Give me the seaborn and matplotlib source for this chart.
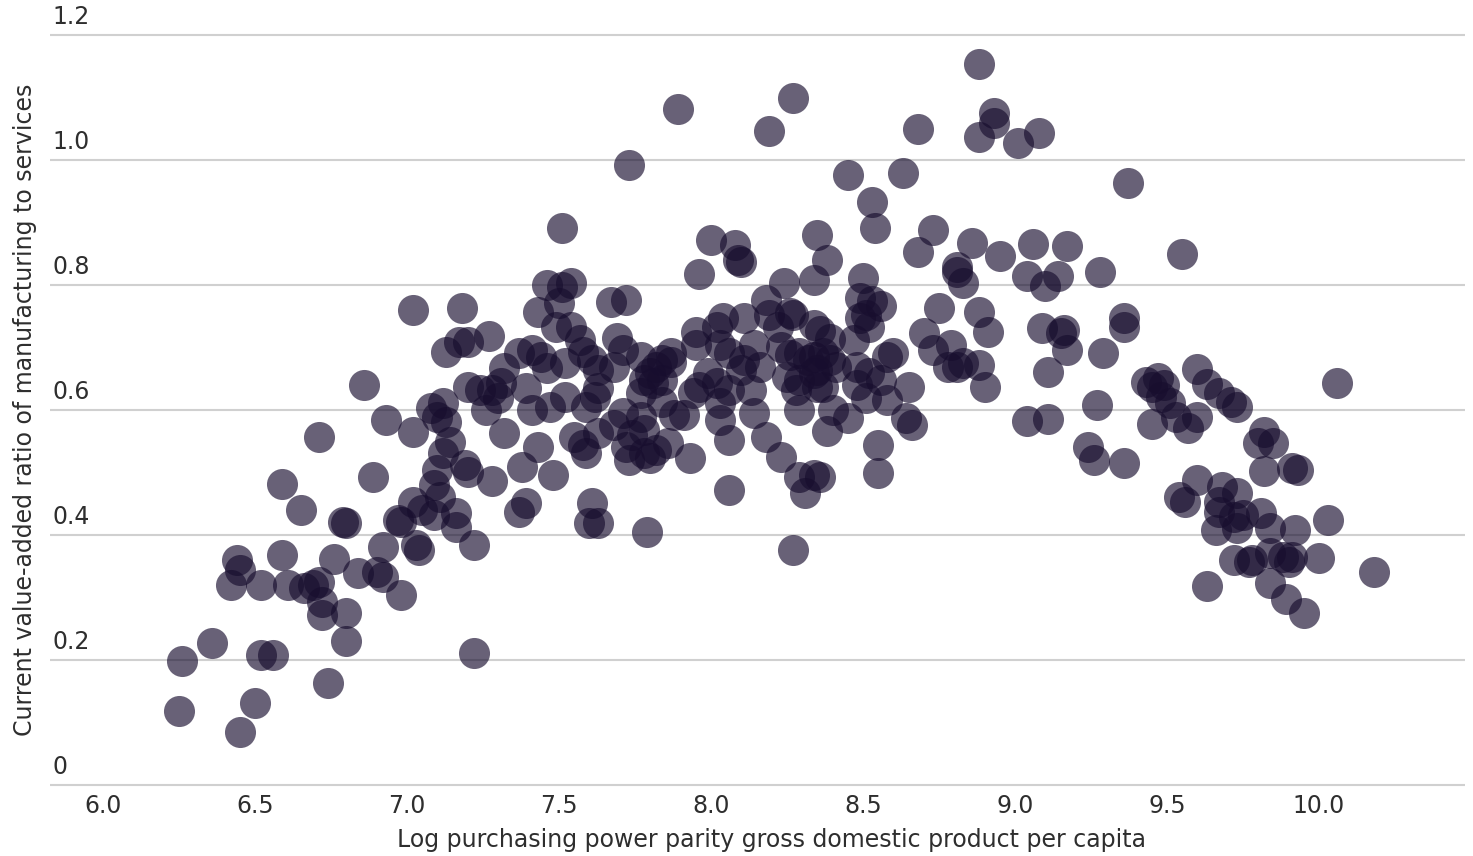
import matplotlib
matplotlib.use('Agg')
import matplotlib.pyplot as plt
import matplotlib.transforms as mtransforms
import seaborn as sns
import pandas as pd

# Log PPP GDP per capita (x) and manufacturing/services value-added ratio (y)
gdp_log = [
    6.25, 6.26, 6.36, 6.44, 6.45, 6.42, 6.45, 6.50, 6.52, 6.56, 6.52, 6.59, 6.59, 6.61, 6.65, 6.66,
    6.69, 6.71, 6.72, 6.72, 6.71, 6.74, 6.76, 6.79, 6.80, 6.80, 6.80, 6.84, 6.86, 6.89, 6.90, 6.92,
    6.92, 6.93, 6.97, 6.98, 6.98,
    7.02, 7.02, 7.03, 7.04, 7.02, 7.05, 7.09, 7.08, 7.12, 7.10, 7.13, 7.14, 7.12, 7.10, 7.09, 7.11,
    7.19, 7.20, 7.13, 7.17, 7.20, 7.18, 7.27, 7.16, 7.16, 7.22, 7.22, 7.20, 7.24, 7.28, 7.31, 7.30,
    7.26, 7.28, 7.32,
    7.32, 7.37, 7.39, 7.37, 7.41, 7.44, 7.46, 7.39, 7.38, 7.41, 7.43, 7.43, 7.46, 7.51, 7.54, 7.50,
    7.49, 7.54, 7.51, 7.47, 7.48, 7.52, 7.52, 7.55, 7.58, 7.59, 7.57, 7.58, 7.61, 7.59, 7.62, 7.63,
    7.63, 7.61, 7.60, 7.63, 7.63, 7.68,
    7.67, 7.72, 7.69, 7.71, 7.68, 7.71, 7.77, 7.78, 7.74, 7.72, 7.73, 7.78, 7.80, 7.82, 7.86, 7.77,
    7.84, 7.88, 7.91, 7.77, 7.80, 7.78, 7.81, 7.82, 7.84, 7.84, 7.87, 7.87, 7.73, 7.79, 7.89, 7.93,
    7.95, 7.95, 7.96, 7.94, 7.96, 7.99,
    8.00, 8.08, 8.09, 8.10, 8.02, 8.04, 8.11, 8.03, 8.06, 8.14, 8.11, 8.10, 8.16, 8.02, 8.06, 8.03,
    8.03, 8.06, 8.06, 8.13, 8.14, 8.18, 8.19, 8.19, 8.27, 8.22, 8.24, 8.18, 8.23, 8.23, 8.26, 8.29,
    8.32, 8.34, 8.37, 8.39, 8.41, 8.35, 8.34, 8.29, 8.35, 8.25, 8.28, 8.37, 8.27, 8.27, 8.29, 8.38,
    8.40, 8.45, 8.29, 8.34, 8.36, 8.31,
    8.34, 8.35, 8.38, 8.26, 8.34, 8.36, 8.39, 8.45, 8.50, 8.49, 8.53, 8.56, 8.49, 8.51, 8.52, 8.47,
    8.53, 8.54, 8.48, 8.52, 8.58, 8.60, 8.56, 8.48, 8.51, 8.58, 8.65, 8.64, 8.66, 8.55, 8.55, 8.63,
    8.68, 8.73, 8.68, 8.70, 8.73, 8.75, 8.79, 8.78, 8.81, 8.83, 8.88, 8.90, 8.81, 8.81, 8.83, 8.86,
    8.88, 8.93, 8.93, 8.88, 8.88, 8.91, 8.95, 9.01, 9.04, 9.10, 9.14, 9.06, 9.08, 9.09, 9.15, 9.16,
    9.17, 9.11, 9.04, 9.11, 9.17, 9.24, 9.26, 9.27, 9.28, 9.29, 9.36, 9.36, 9.36, 9.37,
    9.43, 9.45, 9.47, 9.49, 9.48, 9.51, 9.45, 9.53, 9.57, 9.60, 9.55, 9.60, 9.63, 9.67, 9.71, 9.73,
    9.54, 9.56, 9.60, 9.68, 9.67, 9.73, 9.67, 9.72, 9.75, 9.81, 9.73, 9.66, 9.82, 9.80, 9.85, 9.82,
    9.91, 9.93, 9.84, 9.92, 10.03, 9.63, 9.72, 9.77, 9.78, 9.84, 9.88, 9.90, 9.91, 10.00, 9.84, 9.89,
    9.95, 10.06, 10.18,
]
mfg_ratio = [
    0.118, 0.198, 0.227, 0.360, 0.344, 0.320, 0.085, 0.131, 0.208, 0.208, 0.320, 0.482, 0.368, 0.320, 0.440, 0.315,
    0.320, 0.325, 0.293, 0.272, 0.557, 0.163, 0.362, 0.421, 0.419, 0.275, 0.230, 0.339, 0.640, 0.493, 0.341, 0.333,
    0.381, 0.584, 0.424, 0.421, 0.304,
    0.760, 0.565, 0.384, 0.376, 0.453, 0.440, 0.432, 0.603, 0.611, 0.589, 0.581, 0.549, 0.531, 0.504, 0.480, 0.461,
    0.512, 0.501, 0.693, 0.709, 0.709, 0.763, 0.718, 0.435, 0.413, 0.384, 0.211, 0.637, 0.632, 0.632, 0.643, 0.619,
    0.600, 0.486, 0.667,
    0.563, 0.437, 0.451, 0.691, 0.696, 0.685, 0.667, 0.635, 0.509, 0.600, 0.757, 0.541, 0.800, 0.797, 0.803, 0.771,
    0.733, 0.733, 0.891, 0.605, 0.496, 0.675, 0.621, 0.557, 0.544, 0.531, 0.712, 0.693, 0.680, 0.605, 0.621, 0.635,
    0.664, 0.451, 0.419, 0.419, 0.563, 0.576,
    0.773, 0.776, 0.715, 0.696, 0.669, 0.595, 0.589, 0.568, 0.560, 0.541, 0.520, 0.531, 0.523, 0.536, 0.547, 0.627,
    0.613, 0.592, 0.592, 0.685, 0.659, 0.648, 0.643, 0.669, 0.680, 0.648, 0.691, 0.677, 0.992, 0.405, 1.082, 0.523,
    0.725, 0.704, 0.818, 0.627, 0.637, 0.659,
    0.872, 0.864, 0.840, 0.837, 0.733, 0.747, 0.747, 0.704, 0.691, 0.704, 0.680, 0.664, 0.669, 0.643, 0.632, 0.611,
    0.584, 0.552, 0.472, 0.632, 0.595, 0.776, 1.046, 0.752, 0.752, 0.733, 0.803, 0.557, 0.525, 0.701, 0.688, 0.691,
    0.680, 0.685, 0.691, 0.680, 0.669, 0.664, 0.659, 0.648, 0.637, 0.653, 0.632, 0.637, 1.099, 0.376, 0.600, 0.566,
    0.600, 0.587, 0.493, 0.496, 0.493, 0.467,
    0.808, 0.880, 0.840, 0.755, 0.736, 0.726, 0.714, 0.976, 0.811, 0.779, 0.774, 0.766, 0.747, 0.752, 0.733, 0.712,
    0.933, 0.891, 0.669, 0.659, 0.685, 0.691, 0.648, 0.640, 0.619, 0.616, 0.637, 0.587, 0.576, 0.544, 0.499, 0.979,
    1.050, 0.888, 0.853, 0.723, 0.696, 0.763, 0.704, 0.669, 0.669, 0.675, 0.672, 0.637, 0.829, 0.821, 0.803, 0.867,
    1.154, 1.075, 1.059, 1.037, 0.757, 0.725, 0.846, 1.027, 0.814, 0.798, 0.814, 0.866, 1.043, 0.731, 0.723, 0.728,
    0.696, 0.661, 0.582, 0.586, 0.862, 0.541, 0.520, 0.608, 0.821, 0.691, 0.515, 0.747, 0.733, 0.963,
    0.645, 0.637, 0.651, 0.640, 0.621, 0.611, 0.578, 0.589, 0.571, 0.589, 0.850, 0.666, 0.642, 0.627, 0.613, 0.605,
    0.461, 0.453, 0.488, 0.477, 0.453, 0.467, 0.437, 0.429, 0.432, 0.435, 0.411, 0.408, 0.565, 0.547, 0.547, 0.502,
    0.507, 0.504, 0.411, 0.408, 0.424, 0.318, 0.360, 0.357, 0.360, 0.371, 0.365, 0.357, 0.365, 0.363, 0.323, 0.298,
    0.275, 0.643, 0.341,
]

x_ticks = [6.0, 6.5, 7.0, 7.5, 8.0, 8.5, 9.0, 9.5, 10.0]
x_tick_labels = ['6.0', '6.5', '7.0', '7.5', '8.0', '8.5', '9.0', '9.5', '10.0']
y_ticks = [0.0, 0.2, 0.4, 0.6, 0.8, 1.0, 1.2]
y_tick_labels = ['0', '0.2', '0.4', '0.6', '0.8', '1.0', '1.2']
x_title = 'Log purchasing power parity gross domestic product per capita'
y_title = 'Current value-added ratio of manufacturing to services'

sns.set_style('white')
plt.rcParams['font.family'] = ['DejaVu Sans']

TEXT = '#2e2e2e'
FS = 17

fig = plt.figure(figsize=(14.73, 8.56), dpi=100)
ax = fig.add_axes([50 / 1473, (856 - 787.5) / 856, 1415 / 1473, 755 / 856])

df = pd.DataFrame({'gdp': gdp_log, 'ratio': mfg_ratio})
sns.scatterplot(data=df, x='gdp', y='ratio', ax=ax, s=500, color='#170d2e',
                alpha=0.65, linewidth=0, legend=False, zorder=3)

ax.set_xlim(5.826, 10.48)
ax.set_ylim(-0.004, 1.204)
ax.set_xticks(x_ticks, x_tick_labels)
ax.set_yticks(y_ticks)
ax.set_yticklabels([])
ax.tick_params(axis='both', length=0)
ax.tick_params(axis='x', pad=5, labelsize=FS, labelcolor=TEXT)
ax.yaxis.grid(True, color='#d0d0d0', linewidth=1.5)
ax.xaxis.grid(False)
for sp in ax.spines.values():
    sp.set_visible(False)
ax.set_axisbelow(True)

trans = mtransforms.blended_transform_factory(ax.transAxes, ax.transData)
for v, lab in zip(y_ticks, y_tick_labels):
    ax.annotate(lab, xy=(0.0015, v), xycoords=trans, xytext=(0, 4),
                textcoords='offset points', ha='left', va='bottom',
                fontsize=FS, color=TEXT)

ax.set_xlabel(x_title, fontsize=FS, color=TEXT)
ax.xaxis.set_label_coords(0.51, -0.054)
ax.set_ylabel(y_title, fontsize=FS, color=TEXT)
ax.yaxis.set_label_coords(-0.009, 0.5)

fig.savefig('out.png', dpi=100)
